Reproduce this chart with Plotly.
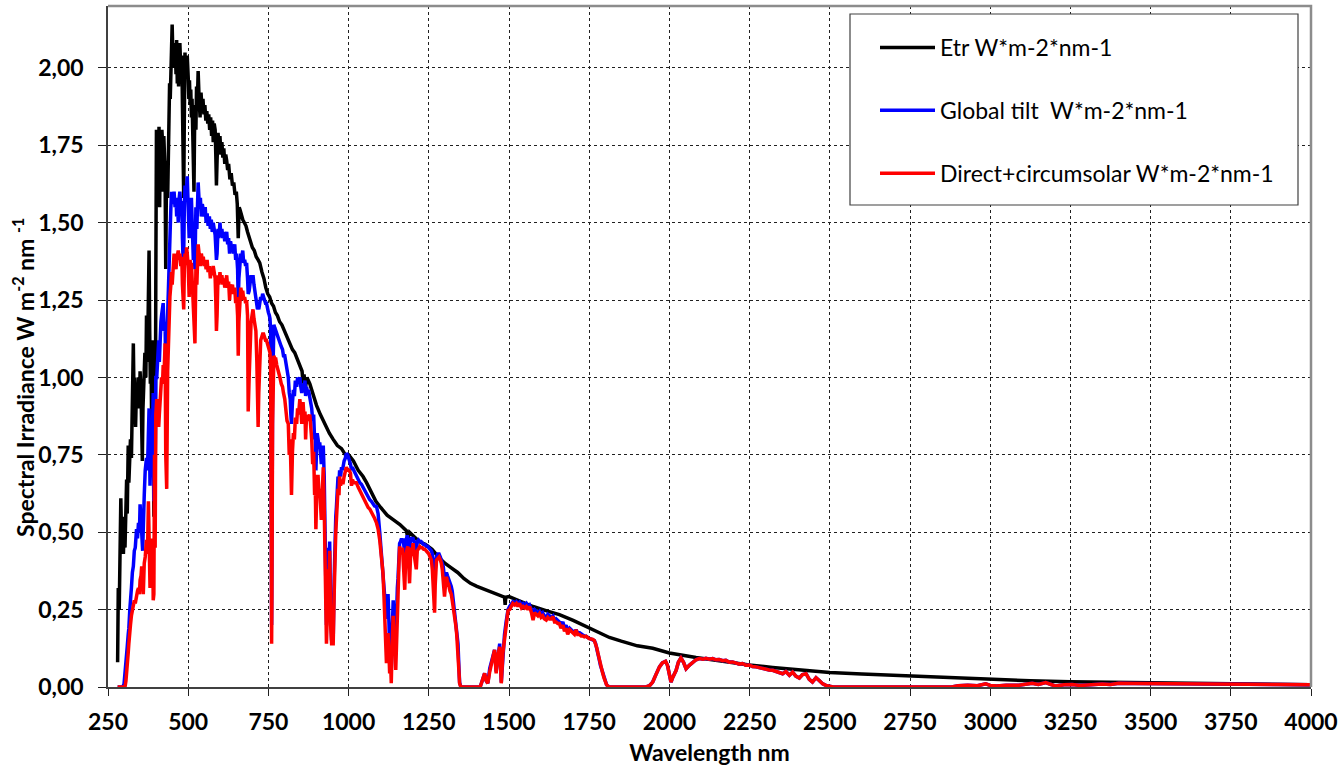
import plotly.graph_objects as go

# ---------------- data ----------------
wl_etr = [
    280, 282, 285, 288, 290, 292, 295, 298, 300, 303,
    305, 308, 310, 313, 315, 318, 320, 323, 325, 327,
    329, 331, 333, 336, 339, 342, 345, 348, 350, 353,
    355, 357, 359, 362, 365, 368, 370, 373, 376, 378,
    380, 382, 384, 386, 388, 390, 392, 393, 395, 397,
    399, 401, 403, 405, 407, 409, 411, 413, 416, 418,
    420, 422, 424, 426, 428, 430, 432, 434, 436, 438,
    440, 442, 444, 446, 448, 450, 452, 454, 456, 458,
    460, 462, 464, 466, 468, 470, 472, 474, 476, 478,
    480, 482, 484, 486, 488, 490, 492, 494, 497, 500,
    502, 504, 506, 508, 510, 512, 514, 516, 518, 520,
    522, 524, 526, 528, 531, 534, 537, 540, 543, 546,
    549, 552, 555, 558, 561, 564, 567, 570, 573, 576,
    578, 581, 584, 586, 588, 590, 593, 596, 599, 602,
    605, 608, 611, 614, 617, 620, 623, 626, 630, 634,
    638, 642, 646, 650, 653, 656, 659, 662, 666, 670,
    675, 680, 685, 690, 695, 700, 706, 712, 718, 723,
    730, 736, 742, 748, 754, 760, 766, 772, 778, 785,
    792, 800, 806, 812, 818, 825, 832, 840, 848, 855,
    858, 861, 866, 870, 879, 888, 900, 912, 925, 940,
    952, 965, 978, 990, 1000, 1015, 1030, 1045, 1056, 1070,
    1085, 1100, 1120, 1140, 1160, 1180, 1185, 1190, 1201, 1220,
    1240, 1260, 1280, 1300, 1320, 1340, 1360, 1380, 1400, 1430,
    1460, 1486, 1488, 1490, 1500, 1540, 1575, 1620, 1657, 1700,
    1749, 1800, 1813, 1850, 1875, 1900, 1948, 2000, 2083, 2166,
    2249, 2322, 2426, 2500, 2600, 2750, 2875, 3000, 3125, 3250,
    3375, 3500, 3625, 3750, 3875, 4000,
]
etr = [
    0.08, 0.32, 0.25, 0.55, 0.61, 0.50, 0.55, 0.43, 0.50, 0.45,
    0.62, 0.67, 0.56, 0.78, 0.66, 0.72, 0.80, 0.74, 0.95, 0.90,
    1.11, 0.95, 1.00, 0.84, 0.98, 0.93, 1.00, 0.90, 1.02, 0.95,
    0.80, 0.73, 0.90, 1.02, 1.08, 1.00, 1.20, 1.05, 1.28, 1.41,
    1.15, 0.98, 1.10, 0.85, 1.05, 1.12, 0.70, 0.55, 0.95, 0.62,
    1.30, 1.80, 1.72, 1.75, 1.60, 1.81, 1.55, 1.78, 1.70, 1.80,
    1.76, 1.60, 1.78, 1.72, 1.65, 1.35, 1.62, 1.70, 1.58, 1.75,
    1.80, 1.95, 1.90, 2.02, 1.98, 2.14, 2.05, 2.00, 2.08, 2.02,
    2.06, 1.98, 2.09, 1.95, 2.02, 1.94, 2.05, 2.08, 2.02, 1.96,
    2.04, 1.90, 1.75, 1.58, 1.85, 2.05, 1.98, 2.02, 2.04, 1.97,
    1.90, 1.96, 1.88, 1.93, 1.84, 1.90, 1.80, 1.65, 1.60, 1.82,
    1.88, 1.80, 1.94, 1.86, 1.99, 1.90, 1.84, 1.92, 1.87, 1.90,
    1.85, 1.88, 1.83, 1.86, 1.82, 1.85, 1.80, 1.84, 1.78, 1.83,
    1.76, 1.82, 1.80, 1.72, 1.62, 1.70, 1.79, 1.75, 1.78, 1.72,
    1.76, 1.71, 1.74, 1.69, 1.72, 1.70, 1.67, 1.69, 1.64, 1.66,
    1.62, 1.63, 1.59, 1.60, 1.56, 1.45, 1.55, 1.54, 1.52, 1.51,
    1.50, 1.49, 1.47, 1.45, 1.44, 1.42, 1.41, 1.39, 1.38, 1.37,
    1.34, 1.32, 1.29, 1.27, 1.26, 1.24, 1.23, 1.21, 1.20, 1.18,
    1.17, 1.15, 1.14, 1.12, 1.11, 1.09, 1.08, 1.06, 1.04, 1.02,
    0.98, 1.01, 0.97, 1.00, 0.98, 0.95, 0.91, 0.88, 0.85, 0.82,
    0.80, 0.78, 0.77, 0.75, 0.75, 0.73, 0.70, 0.68, 0.66, 0.63,
    0.60, 0.58, 0.555, 0.54, 0.525, 0.505, 0.48, 0.50, 0.49, 0.47,
    0.46, 0.445, 0.42, 0.40, 0.385, 0.37, 0.35, 0.335, 0.325, 0.313,
    0.30, 0.29, 0.265, 0.29, 0.292, 0.275, 0.26, 0.245, 0.234, 0.215,
    0.19, 0.167, 0.16, 0.148, 0.14, 0.133, 0.125, 0.11, 0.095, 0.082,
    0.071, 0.063, 0.052, 0.047, 0.042, 0.035, 0.029, 0.024, 0.02, 0.017,
    0.015, 0.013, 0.011, 0.01, 0.008, 0.007,
]

wl_atm = [
    280, 290, 296, 300, 303, 306, 308, 310, 313, 315,
    318, 320, 323, 326, 329, 332, 335, 339, 342, 345,
    348, 350, 353, 355, 358, 360, 363, 366, 370, 373,
    376, 378, 381, 384, 386, 389, 391, 393, 395, 397,
    399, 402, 405, 408, 410, 412, 415, 417, 420, 422,
    425, 428, 430, 433, 436, 438, 441, 443, 446, 448,
    450, 453, 456, 459, 462, 464, 467, 469, 472, 474,
    477, 480, 482, 484, 486, 488, 490, 493, 495, 497,
    500, 503, 506, 508, 510, 513, 516, 518, 521, 524,
    527, 531, 535, 538, 541, 544, 547, 550, 553, 556,
    559, 562, 566, 569, 572, 575, 578, 581, 584, 586,
    588, 590, 593, 596, 599, 602, 605, 608, 611, 614,
    617, 620, 623, 626, 629, 632, 635, 638, 641, 645,
    648, 651, 654, 656, 658, 661, 664, 667, 670, 673,
    676, 679, 682, 685, 687, 690, 693, 696, 699, 702,
    705, 708, 711, 714, 716, 718, 720, 723, 726, 729,
    732, 735, 738, 741, 744, 747, 750, 753, 755, 757,
    759, 760, 761, 763, 765, 767, 770, 773, 776, 779,
    782, 786, 790, 794, 797, 801, 804, 808, 812, 815,
    818, 820, 822, 825, 828, 831, 834, 838, 841, 844,
    848, 851, 854, 858, 861, 864, 866, 869, 872, 875,
    879, 882, 885, 888, 891, 894, 896, 898, 900, 902,
    905, 908, 910, 913, 915, 918, 921, 924, 926, 928,
    931, 934, 936, 938, 941, 944, 947, 950, 952, 955,
    957, 960, 962, 965, 967, 970, 972, 975, 978, 981,
    983, 986, 990, 993, 997, 1000, 1002, 1006, 1009, 1012,
    1016, 1020, 1024, 1030, 1035, 1040, 1045, 1050, 1056, 1061,
    1066, 1071, 1076, 1081, 1087, 1092, 1097, 1102, 1107, 1110,
    1113, 1116, 1118, 1121, 1123, 1126, 1128, 1131, 1133, 1136,
    1139, 1142, 1145, 1147, 1150, 1152, 1154, 1157, 1159, 1162,
    1165, 1168, 1170, 1173, 1175, 1178, 1180, 1183, 1185, 1188,
    1190, 1193, 1196, 1199, 1201, 1204, 1208, 1211, 1214, 1218,
    1222, 1226, 1230, 1234, 1238, 1242, 1246, 1250, 1254, 1258,
    1261, 1264, 1266, 1268, 1270, 1272, 1274, 1278, 1282, 1286,
    1289, 1292, 1295, 1299, 1302, 1305, 1308, 1312, 1316, 1320,
    1323, 1326, 1329, 1331, 1334, 1337, 1339, 1341, 1344, 1346,
    1350, 1380, 1410, 1414, 1419, 1424, 1429, 1434, 1440, 1445,
    1450, 1455, 1460, 1465, 1471, 1476, 1481, 1486, 1491, 1497,
    1502, 1507, 1512, 1518, 1523, 1528, 1533, 1539, 1544, 1549,
    1554, 1559, 1564, 1570, 1575, 1580, 1585, 1590, 1595, 1600,
    1605, 1610, 1616, 1621, 1626, 1631, 1637, 1642, 1647, 1652,
    1657, 1662, 1668, 1673, 1678, 1683, 1689, 1694, 1699, 1704,
    1709, 1714, 1720, 1725, 1730, 1735, 1740, 1745, 1750, 1756,
    1761, 1766, 1770, 1774, 1777, 1781, 1785, 1789, 1792, 1796,
    1800, 1804, 1808, 1813, 1850, 1900, 1927, 1938, 1948, 1958,
    1969, 1978, 1988, 1994, 2000, 2005, 2010, 2016, 2021, 2028,
    2036, 2044, 2052, 2062, 2073, 2083, 2093, 2105, 2114, 2124,
    2135, 2145, 2155, 2166, 2176, 2187, 2197, 2207, 2218, 2228,
    2238, 2249, 2259, 2270, 2280, 2290, 2301, 2311, 2322, 2332,
    2342, 2353, 2363, 2374, 2384, 2394, 2405, 2415, 2426, 2436,
    2446, 2457, 2467, 2478, 2488, 2500, 2510, 2600, 2700, 2800,
    2880, 2900, 2930, 2960, 2986, 3000, 3020, 3050, 3090, 3110,
    3131, 3150, 3173, 3190, 3204, 3230, 3256, 3280, 3298, 3320,
    3349, 3375, 3401, 3450, 3500, 3600, 3700, 3800, 3900, 4000,
]
glob = [
    0.0, 0.0, 0.0, 0.01, 0.04, 0.08, 0.11, 0.13, 0.17, 0.19,
    0.25, 0.27, 0.32, 0.37, 0.39, 0.44, 0.45, 0.51, 0.48, 0.53,
    0.50, 0.59, 0.55, 0.50, 0.44, 0.56, 0.62, 0.70, 0.74, 0.70,
    0.86, 0.90, 0.65, 0.80, 0.70, 0.85, 0.95, 0.60, 0.95, 0.70,
    1.00, 1.00, 1.08, 1.12, 1.05, 1.15, 1.18, 1.20, 1.22, 1.24,
    1.15, 1.18, 1.00, 1.12, 1.20, 1.32, 1.45, 1.52, 1.55, 1.60,
    1.58, 1.56, 1.60, 1.55, 1.58, 1.52, 1.56, 1.50, 1.58, 1.60,
    1.55, 1.57, 1.45, 1.38, 1.40, 1.55, 1.62, 1.58, 1.64, 1.65,
    1.55, 1.45, 1.58, 1.52, 1.58, 1.50, 1.38, 1.42, 1.35, 1.55,
    1.48, 1.63, 1.55, 1.58, 1.52, 1.56, 1.54, 1.52, 1.55, 1.50,
    1.53, 1.49, 1.52, 1.48, 1.51, 1.47, 1.50, 1.48, 1.46, 1.42,
    1.38, 1.40, 1.48, 1.45, 1.50, 1.46, 1.48, 1.45, 1.47, 1.44,
    1.46, 1.47, 1.43, 1.45, 1.40, 1.44, 1.42, 1.43, 1.40, 1.43,
    1.38, 1.40, 1.35, 1.24, 1.32, 1.38, 1.40, 1.39, 1.41, 1.37,
    1.38, 1.36, 1.37, 1.32, 1.27, 1.28, 1.30, 1.33, 1.31, 1.33,
    1.30, 1.28, 1.27, 1.24, 1.22, 1.23, 1.22, 1.24, 1.26, 1.25,
    1.27, 1.26, 1.25, 1.24, 1.24, 1.22, 1.21, 1.20, 1.19, 1.15,
    0.50, 0.20, 0.40, 0.95, 1.10, 1.17, 1.16, 1.15, 1.14, 1.13,
    1.12, 1.11, 1.10, 1.09, 1.07, 1.07, 1.05, 1.02, 1.00, 0.95,
    0.93, 0.88, 0.85, 0.92, 0.96, 0.94, 0.99, 0.97, 1.00, 0.99,
    1.00, 0.97, 0.95, 0.98, 0.96, 0.99, 0.94, 0.97, 0.95, 0.96,
    0.94, 0.92, 0.90, 0.86, 0.88, 0.80, 0.82, 0.70, 0.76, 0.82,
    0.80, 0.77, 0.79, 0.74, 0.72, 0.76, 0.78, 0.68, 0.58, 0.40,
    0.20, 0.30, 0.45, 0.35, 0.47, 0.25, 0.15, 0.18, 0.15, 0.35,
    0.50, 0.55, 0.58, 0.63, 0.68, 0.66, 0.70, 0.68, 0.71, 0.70,
    0.72, 0.73, 0.74, 0.755, 0.75, 0.74, 0.73, 0.72, 0.70, 0.71,
    0.70, 0.69, 0.68, 0.67, 0.66, 0.655, 0.645, 0.635, 0.626, 0.615,
    0.605, 0.60, 0.59, 0.585, 0.583, 0.56, 0.50, 0.44, 0.38, 0.33,
    0.29, 0.26, 0.22, 0.28, 0.30, 0.20, 0.10, 0.15, 0.05, 0.18,
    0.28, 0.20, 0.22, 0.15, 0.30, 0.32, 0.35, 0.42, 0.464, 0.47,
    0.48, 0.47, 0.48, 0.45, 0.40, 0.47, 0.48, 0.49, 0.48, 0.44,
    0.40, 0.47, 0.48, 0.48, 0.48, 0.47, 0.46, 0.43, 0.47, 0.475,
    0.47, 0.47, 0.465, 0.46, 0.46, 0.455, 0.455, 0.45, 0.445, 0.44,
    0.43, 0.40, 0.35, 0.33, 0.38, 0.41, 0.42, 0.43, 0.43, 0.42,
    0.41, 0.40, 0.39, 0.35, 0.36, 0.37, 0.36, 0.35, 0.34, 0.325,
    0.31, 0.28, 0.26, 0.24, 0.21, 0.18, 0.15, 0.14, 0.06, 0.015,
    0.0, 0.0, 0.0, 0.012, 0.03, 0.044, 0.02, 0.012, 0.06, 0.08,
    0.10, 0.12, 0.05, 0.10, 0.14, 0.015, 0.12, 0.17, 0.21, 0.25,
    0.26, 0.27, 0.275, 0.27, 0.276, 0.27, 0.275, 0.265, 0.27, 0.265,
    0.27, 0.26, 0.265, 0.25, 0.24, 0.25, 0.245, 0.24, 0.245, 0.235,
    0.24, 0.23, 0.225, 0.235, 0.23, 0.225, 0.23, 0.215, 0.22, 0.215,
    0.21, 0.20, 0.21, 0.19, 0.20, 0.18, 0.19, 0.185, 0.18, 0.175,
    0.185, 0.175, 0.175, 0.17, 0.168, 0.165, 0.164, 0.16, 0.158, 0.155,
    0.154, 0.15, 0.14, 0.125, 0.11, 0.09, 0.07, 0.055, 0.045, 0.03,
    0.015, 0.008, 0.003, 0.0, 0.0, 0.0, 0.0, 0.004, 0.016, 0.04,
    0.065, 0.078, 0.083, 0.07, 0.043, 0.016, 0.03, 0.045, 0.054, 0.08,
    0.094, 0.08, 0.059, 0.07, 0.081, 0.088, 0.092, 0.09, 0.093, 0.09,
    0.092, 0.088, 0.089, 0.085, 0.086, 0.08, 0.081, 0.077, 0.074, 0.076,
    0.07, 0.071, 0.066, 0.065, 0.062, 0.06, 0.058, 0.055, 0.054, 0.05,
    0.047, 0.043, 0.05, 0.038, 0.048, 0.035, 0.029, 0.04, 0.043, 0.025,
    0.016, 0.03, 0.021, 0.01, 0.005, 0.002, 0.0, 0.0, 0.0, 0.0,
    0.0, 0.004, 0.006, 0.004, 0.01, 0.005, 0.003, 0.006, 0.006, 0.009,
    0.012, 0.008, 0.014, 0.008, 0.003, 0.007, 0.008, 0.005, 0.006, 0.009,
    0.01, 0.008, 0.012, 0.011, 0.011, 0.01, 0.01, 0.009, 0.008, 0.007,
]
dirc = [
    0.0, 0.0, 0.0, 0.0, 0.0, 0.02, 0.04, 0.07, 0.11, 0.14,
    0.195, 0.20, 0.23, 0.25, 0.26, 0.28, 0.27, 0.30, 0.31, 0.32,
    0.30, 0.345, 0.36, 0.39, 0.30, 0.30, 0.40, 0.42, 0.475, 0.43,
    0.60, 0.50, 0.32, 0.40, 0.45, 0.48, 0.28, 0.30, 0.75, 0.45,
    0.88, 0.93, 0.90, 0.84, 0.88, 0.92, 0.95, 1.00, 0.98, 1.04,
    1.02, 1.11, 0.75, 0.64, 1.02, 1.10, 1.20, 1.26, 1.30, 1.34,
    1.30, 1.36, 1.40, 1.37, 1.35, 1.38, 1.40, 1.41, 1.38, 1.40,
    1.36, 1.39, 1.30, 1.26, 1.22, 1.35, 1.40, 1.38, 1.42, 1.40,
    1.36, 1.26, 1.38, 1.34, 1.37, 1.30, 1.20, 1.18, 1.11, 1.35,
    1.30, 1.43, 1.38, 1.36, 1.40, 1.38, 1.39, 1.36, 1.37, 1.35,
    1.38, 1.34, 1.36, 1.32, 1.35, 1.33, 1.36, 1.34, 1.32, 1.25,
    1.15, 1.20, 1.33, 1.30, 1.34, 1.31, 1.33, 1.30, 1.32, 1.29,
    1.31, 1.33, 1.29, 1.31, 1.25, 1.30, 1.28, 1.30, 1.27, 1.29,
    1.24, 1.26, 1.20, 1.07, 1.18, 1.28, 1.29, 1.27, 1.28, 1.25,
    1.26, 1.24, 1.25, 1.20, 0.89, 1.00, 1.15, 1.18, 1.20, 1.22,
    1.19, 1.17, 1.15, 1.05, 0.92, 0.84, 0.95, 1.05, 1.12, 1.13,
    1.14, 1.14, 1.13, 1.12, 1.12, 1.11, 1.10, 1.09, 1.08, 1.02,
    0.40, 0.14, 0.30, 0.85, 1.00, 1.07, 1.06, 1.06, 1.04, 1.03,
    1.02, 1.00, 0.98, 0.97, 0.95, 0.93, 0.90, 0.86, 0.85, 0.75,
    0.80, 0.70, 0.62, 0.76, 0.82, 0.80, 0.87, 0.85, 0.90, 0.88,
    0.93, 0.90, 0.85, 0.92, 0.87, 0.89, 0.80, 0.88, 0.86, 0.87,
    0.88, 0.84, 0.80, 0.72, 0.76, 0.62, 0.66, 0.51, 0.62, 0.68,
    0.68, 0.62, 0.64, 0.57, 0.54, 0.63, 0.71, 0.58, 0.465, 0.30,
    0.14, 0.25, 0.38, 0.30, 0.44, 0.20, 0.14, 0.14, 0.14, 0.30,
    0.44, 0.50, 0.54, 0.60, 0.64, 0.62, 0.68, 0.65, 0.67, 0.66,
    0.66, 0.68, 0.70, 0.71, 0.70, 0.70, 0.70, 0.69, 0.65, 0.67,
    0.66, 0.66, 0.66, 0.645, 0.635, 0.625, 0.615, 0.60, 0.59, 0.58,
    0.575, 0.565, 0.56, 0.545, 0.53, 0.51, 0.475, 0.42, 0.37, 0.30,
    0.20, 0.12, 0.077, 0.15, 0.174, 0.10, 0.044, 0.08, 0.012, 0.15,
    0.23, 0.12, 0.14, 0.055, 0.20, 0.25, 0.292, 0.40, 0.454, 0.44,
    0.43, 0.45, 0.42, 0.36, 0.314, 0.42, 0.44, 0.45, 0.454, 0.38,
    0.335, 0.42, 0.45, 0.44, 0.465, 0.43, 0.40, 0.38, 0.44, 0.45,
    0.454, 0.45, 0.45, 0.445, 0.445, 0.44, 0.435, 0.43, 0.42, 0.41,
    0.38, 0.30, 0.26, 0.24, 0.33, 0.39, 0.41, 0.415, 0.42, 0.41,
    0.40, 0.38, 0.35, 0.292, 0.33, 0.356, 0.34, 0.33, 0.31, 0.30,
    0.28, 0.26, 0.24, 0.23, 0.20, 0.17, 0.14, 0.13, 0.05, 0.012,
    0.0, 0.0, 0.0, 0.012, 0.03, 0.044, 0.02, 0.012, 0.05, 0.077,
    0.09, 0.12, 0.044, 0.10, 0.13, 0.012, 0.11, 0.16, 0.20, 0.247,
    0.25, 0.26, 0.27, 0.265, 0.27, 0.26, 0.27, 0.255, 0.26, 0.255,
    0.26, 0.25, 0.26, 0.24, 0.216, 0.24, 0.235, 0.23, 0.237, 0.225,
    0.23, 0.22, 0.216, 0.225, 0.22, 0.22, 0.227, 0.21, 0.21, 0.205,
    0.205, 0.19, 0.20, 0.18, 0.19, 0.17, 0.185, 0.18, 0.175, 0.17,
    0.185, 0.17, 0.17, 0.165, 0.165, 0.162, 0.164, 0.158, 0.156, 0.155,
    0.154, 0.15, 0.14, 0.125, 0.11, 0.09, 0.07, 0.055, 0.045, 0.03,
    0.015, 0.008, 0.003, 0.0, 0.0, 0.0, 0.0, 0.004, 0.016, 0.04,
    0.065, 0.078, 0.083, 0.07, 0.043, 0.016, 0.03, 0.045, 0.054, 0.08,
    0.094, 0.08, 0.059, 0.07, 0.081, 0.088, 0.092, 0.09, 0.093, 0.09,
    0.092, 0.088, 0.089, 0.085, 0.086, 0.08, 0.081, 0.077, 0.074, 0.076,
    0.07, 0.071, 0.066, 0.065, 0.062, 0.06, 0.058, 0.055, 0.054, 0.05,
    0.047, 0.043, 0.05, 0.038, 0.048, 0.035, 0.029, 0.04, 0.043, 0.025,
    0.016, 0.03, 0.021, 0.01, 0.005, 0.002, 0.0, 0.0, 0.0, 0.0,
    0.0, 0.004, 0.006, 0.004, 0.01, 0.005, 0.003, 0.006, 0.006, 0.009,
    0.012, 0.008, 0.014, 0.008, 0.003, 0.007, 0.008, 0.005, 0.006, 0.009,
    0.01, 0.008, 0.012, 0.011, 0.011, 0.01, 0.01, 0.009, 0.008, 0.007,
]

series_names = [
    "Etr W*m-2*nm-1",
    "Global tilt\u00a0 W*m-2*nm-1",
    "Direct+circumsolar W*m-2*nm-1",
]
x_ticks = [250, 500, 750, 1000, 1250, 1500, 1750, 2000, 2250, 2500,
           2750, 3000, 3250, 3500, 3750, 4000]
y_ticks = [0, 0.25, 0.5, 0.75, 1.0, 1.25, 1.5, 1.75, 2.0]
y_tick_labels = ["0,00", "0,25", "0,50", "0,75", "1,00", "1,25", "1,50", "1,75", "2,00"]

# ---------------- figure ----------------
FONT = "Lato, 'Open Sans', sans-serif"

fig = go.Figure()
fig.add_trace(go.Scatter(x=wl_etr, y=etr, mode="lines", name=series_names[0],
                         legendgroup="etr", line=dict(color="#000000", width=3.5)))
fig.add_trace(go.Scatter(x=wl_atm, y=glob, mode="lines", name=series_names[1],
                         legendgroup="glob", line=dict(color="#0000ff", width=3.5)))
fig.add_trace(go.Scatter(x=wl_atm, y=dirc, mode="lines", name=series_names[2],
                         legendgroup="dir", line=dict(color="#ff0000", width=3.5)))

L, R, T, B = 108, 31, 6, 79
W, H = 1342, 766
pw, ph = W - L - R, H - T - B


def px_x(p):
    return (p - L) / pw


def px_y(p):
    return (H - B - p) / ph


fig.update_layout(
    width=W, height=H,
    margin=dict(l=L, r=R, t=T, b=B, pad=0, autoexpand=False),
    paper_bgcolor="white", plot_bgcolor="white",
    font=dict(family=FONT, color="black"),
    showlegend=True,
    legend=dict(
        x=px_x(875), y=px_y(26), xanchor="left", yanchor="top",
        bgcolor="rgba(0,0,0,0)", borderwidth=0,
        font=dict(size=23, family=FONT, color="black"),
        tracegroupgap=30, itemwidth=55,
    ),
    xaxis=dict(
        range=[250, 4000], tickmode="array", tickvals=x_ticks,
        ticktext=[str(v) for v in x_ticks], automargin=False,
        tickfont=dict(size=23, family=FONT, weight="bold"),
        ticklabelstandoff=6,
        showgrid=True, gridcolor="#202020", griddash="dot", gridwidth=1,
        ticks="outside", ticklen=7, tickcolor="#202020", tickwidth=1,
        showline=True, linecolor="#404040", linewidth=2, zeroline=False,
        title=dict(text="<b>Wavelength nm</b>", font=dict(size=23, family=FONT), standoff=14),
    ),
    yaxis=dict(
        range=[0, 2.2], tickmode="array", tickvals=y_ticks, ticktext=y_tick_labels,
        automargin=False,
        tickfont=dict(size=23, family=FONT, weight="bold"),
        ticklabelstandoff=10,
        showgrid=True, gridcolor="#202020", griddash="dot", gridwidth=1,
        ticks="outside", ticklen=8, tickcolor="#202020", tickwidth=1,
        showline=True, linecolor="#404040", linewidth=1.5, zeroline=False,
    ),
    shapes=[
        # top/right frame
        dict(type="path", xref="paper", yref="paper",
             path="M 0,1 L 1,1 L 1,0", line=dict(color="#8c8c8c", width=2.5), layer="above"),
        # legend box
        dict(type="rect", xref="paper", yref="paper",
             x0=px_x(850), x1=px_x(1298), y0=px_y(205), y1=px_y(14),
             fillcolor="white", line=dict(color="#404040", width=1.2), layer="above"),
    ],
    annotations=[
        dict(text="<b>Spectral Irradiance W m<sup>-2</sup> nm <sup>-1</sup></b>",
             xref="paper", yref="paper", x=px_x(23), y=px_y(378),
             xanchor="center", yanchor="middle", textangle=-90, showarrow=False,
             font=dict(size=23, family=FONT, color="black")),
    ],
)

fig.write_html("out.html", config={"displayModeBar": False},
               post_script="document.body.style.margin='0';document.body.style.padding='0';")
